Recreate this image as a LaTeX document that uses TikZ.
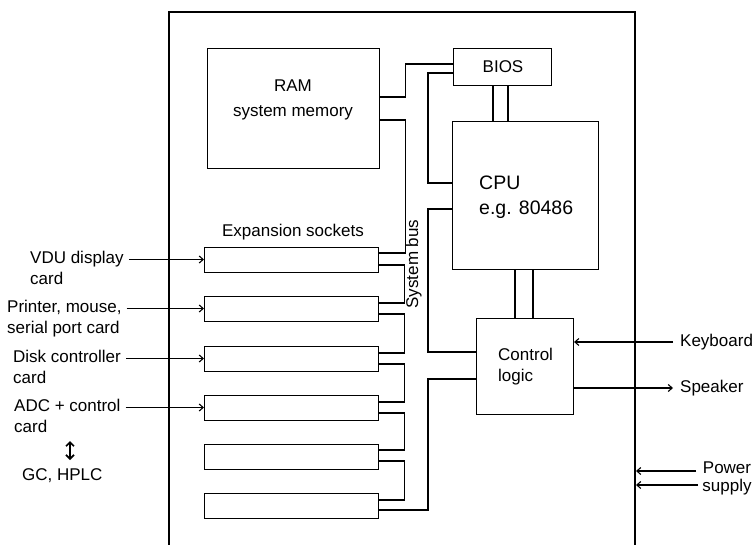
\documentclass[tikz,border=0pt]{standalone}
\usepackage{fontspec}
\setmainfont{Liberation Sans}
\usetikzlibrary{arrows.meta,calc}
\begin{document}
\begin{tikzpicture}[x=1pt,y=-1pt,
  box/.style={draw, line width=1.1pt, inner sep=0pt, anchor=north west},
  sock/.style={box, minimum width=174pt, minimum height=25pt},
  lbl/.style={inner sep=0pt, font=\fontsize{17}{20}\selectfont, text height=12pt, text depth=4pt},
  big/.style={inner sep=0pt, font=\fontsize{19.5}{22}\selectfont},
  wire/.style={line width=1.1pt},
  arr/.style={wire, -{Straight Barb[length=4pt,width=7pt]}},
]
\useasboundingbox (0,0) rectangle (755,545);
% board
\draw[line width=1.8pt] (169,545) -- (169,12) -- (635,12) -- (635,545);
\coordinate (bR) at (636,12);
% main blocks
\node[box, minimum width=172pt, minimum height=120pt] (ram) at (207,48) {};
\node[box, minimum width=98pt, minimum height=37pt] (bios) at (453,48) {};
\node[box, minimum width=146pt, minimum height=148pt] (cpu) at (452,121) {};
\node[box, minimum width=97pt, minimum height=96pt] (ctrl) at (476,318) {};
% sockets
\node[sock] (s1) at (204,247) {};
\node[sock] (s2) at (204,296) {};
\node[sock] (s3) at (204,346) {};
\node[sock] (s4) at (204,395) {};
\node[sock] (s5) at (204,444) {};
\node[sock] (s6) at (204,493) {};
% texts in blocks
\node[lbl, anchor=base] at (293,92) {RAM};
\node[lbl, anchor=base] at (293,117) {system memory};
\node[lbl, anchor=base] at (503,73) {BIOS};
\node[big, anchor=base west] at (479,190) {CPU};
\node[big, anchor=base west] at (479,215) {e.g. 80486};
\node[lbl, anchor=base west] at (498,360) {Control};
\node[lbl, anchor=base west] at (498,381) {logic};
\node[lbl, anchor=base] at (293,237) {Expansion sockets};
\node[lbl, anchor=base, rotate=90] at (418,264) {System bus};
% bus wiring
\draw[wire] ([yshift=-49pt]ram.north east) -- ++(25,0) |- ([yshift=-16pt]bios.north west);
\draw[wire] ([yshift=-72pt]ram.north east) -- ++(25,0) |- ([yshift=-6pt]s1.north east);
\draw[wire] ([yshift=-25pt]bios.north west) -- ++(-25,0) |- ([yshift=-62pt]cpu.north west);
\draw[wire] ([yshift=-88pt]cpu.north west) -- ++(-24,0) |- ([yshift=-34pt]ctrl.north west);
\draw[wire] ([yshift=-61pt]ctrl.north west) -- ++(-48,0) |- ([yshift=-17pt]s6.north east);
\draw[wire] ([yshift=-18pt]s1.north east) -- ++(25,0) |- ([yshift=-7pt]s2.north east);
\draw[wire] ([yshift=-18pt]s2.north east) -- ++(25,0) |- ([yshift=-7pt]s3.north east);
\draw[wire] ([yshift=-18pt]s3.north east) -- ++(25,0) |- ([yshift=-7pt]s4.north east);
\draw[wire] ([yshift=-18pt]s4.north east) -- ++(25,0) |- ([yshift=-6pt]s5.north east);
\draw[wire] ([yshift=-17pt]s5.north east) -- ++(25,0) |- ([yshift=-7pt]s6.north east);
% double links
\draw[wire] ([xshift=40pt]bios.south west) -- ([xshift=41pt]cpu.north west);
\draw[wire] ([xshift=55pt]bios.south west) -- ([xshift=56pt]cpu.north west);
\draw[wire] ([xshift=63pt]cpu.south west) -- ([xshift=39pt]ctrl.north west);
\draw[wire] ([xshift=81pt]cpu.south west) -- ([xshift=57pt]ctrl.north west);
% left labels
\node[lbl, anchor=base west] (vdu) at (30,263.5) {VDU display};
\node[lbl, anchor=base west] at (30,284.5) {card};
\node[lbl, anchor=base west] (prn) at (7,312.5) {Printer, mouse,};
\node[lbl, anchor=base west] at (7,333.5) {serial port card};
\node[lbl, anchor=base west] (dsk) at (13,362.5) {Disk controller};
\node[lbl, anchor=base west] at (13,383.5) {card};
\node[lbl, anchor=base west] (adc) at (14,411.5) {ADC + control};
\node[lbl, anchor=base west] (adc2) at (14,432.5) {card};
\node[lbl, anchor=base west] (gc) at (22,480) {GC, HPLC};
\draw[arr] ([xshift=5pt]vdu.east) -- (vdu.east -| s1.west);
\draw[arr] ([xshift=5pt]prn.east) -- (prn.east -| s2.west);
\draw[arr] ([xshift=5pt]dsk.east) -- (dsk.east -| s3.west);
\draw[arr] ([xshift=5pt]adc.east) -- (adc.east -| s4.west);
\coordinate (ud1) at (70,441);
\coordinate (ud2) at (70,460);
\draw[line width=1.7pt, {Straight Barb[length=4pt,width=8pt]}-{Straight Barb[length=4pt,width=8pt]}] (ud1) -- (ud2);
% right labels
\node[lbl, anchor=base west] (kb) at (680,346) {Keyboard};
\node[lbl, anchor=base west] (sp) at (680,392) {Speaker};
\draw[arr] ([xshift=-7pt]kb.west) -- (kb.west -| ctrl.east);
\draw[arr] (sp.west -| ctrl.east) -- ([xshift=-7pt]sp.west);
\node[lbl, anchor=base] (pw) at (727,473) {Power};
\node[lbl, anchor=base] (su) at (727,491) {supply};
\coordinate (pw1) at (696,471);
\coordinate (pw2) at (698,485);
\draw[arr] (pw1) -- (pw1 -| bR);
\draw[arr] (pw2) -- (pw2 -| bR);
\end{tikzpicture}
\end{document}
